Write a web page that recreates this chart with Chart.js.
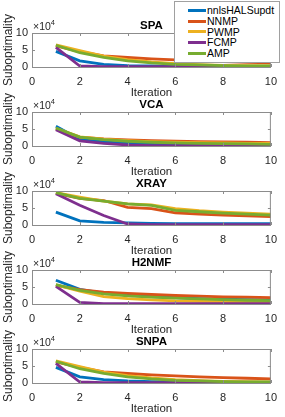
<!DOCTYPE html>
<html>
<head>
<meta charset="utf-8">
<script src="https://cdn.jsdelivr.net/npm/chart.js@4.4.1/dist/chart.umd.min.js"></script>
<style>
  body { margin: 0; background: #fff; width: 285px; height: 417px; position: relative; overflow: hidden; font-family: "Liberation Sans", Arial, sans-serif; }
  .panel { position: absolute; left: 0; width: 285px; height: 100px; }
  #legend { position: absolute; left: 174px; top: 1px; width: 106px; height: 62px; background: #fff; border: 1px solid #a0a0a0; z-index: 10; box-sizing: border-box; padding-top: 3px; }
  #legend div { height: 10.8px; line-height: 10.8px; font-size: 10.5px; color: #000; white-space: nowrap; }
  #legend span { display: inline-block; width: 18px; height: 3px; vertical-align: middle; margin-left: 13px; margin-right: 1px; position: relative; top: -1px; }
</style>
</head>
<body>
<div id="legend"></div>
<script>
// iterations on the x axis
const iterations = [1, 2, 3, 4, 5, 6, 7, 8, 9, 10];
const methods = ["nnlsHALSupdt", "NNMP", "PWMP", "FCMP", "AMP"];
const colors = ["#0072BD", "#D95319", "#EDB120", "#7E2F8E", "#77AC30"];
const titles = ["SPA", "VCA", "XRAY", "H2NMF", "SNPA"];

// suboptimality values, in units of 10^4 (one row per method)
const spaValues = [
  [4.6, 1.8, 0.8, 0.4, 0.3, 0.2, 0.2, 0.2, 0.2, 0.2],
  [6.2, 4.5, 3.3, 2.8, 2.4, 2.1, 1.8, 1.6, 1.4, 1.2],
  [6.5, 4.8, 3.2, 2.2, 1.5, 1.0, 0.7, 0.5, 0.4, 0.3],
  [5.8, 0.3, 0.1, 0.1, 0.1, 0.1, 0.1, 0.1, 0.1, 0.1],
  [6.4, 4.2, 2.8, 1.8, 1.2, 0.8, 0.6, 0.4, 0.3, 0.3]
];
const vcaValues = [
  [5.8, 2.0, 1.3, 0.9, 0.7, 0.6, 0.5, 0.5, 0.4, 0.4],
  [5.0, 2.6, 2.1, 1.8, 1.6, 1.4, 1.3, 1.2, 1.1, 1.0],
  [5.2, 2.7, 2.0, 1.6, 1.3, 1.1, 1.0, 0.9, 0.8, 0.8],
  [4.8, 1.5, 0.8, 0.3, 0.1, 0.1, 0.1, 0.1, 0.1, 0.1],
  [5.3, 2.6, 1.9, 1.4, 1.1, 0.9, 0.8, 0.7, 0.6, 0.5]
];
const xrayValues = [
  [3.8, 1.2, 0.8, 0.6, 0.5, 0.4, 0.4, 0.4, 0.4, 0.4],
  [9.3, 7.8, 7.2, 5.2, 4.8, 3.6, 3.2, 2.9, 2.7, 2.5],
  [9.5, 8.2, 7.0, 6.2, 5.9, 4.8, 4.2, 3.8, 3.5, 3.2],
  [9.2, 5.8, 2.8, 0.3, 0.1, 0.1, 0.1, 0.1, 0.1, 0.1],
  [9.5, 7.8, 7.0, 6.2, 5.8, 4.3, 3.9, 3.5, 3.2, 2.9]
];
const h2nmfValues = [
  [7.0, 4.3, 3.2, 2.6, 2.2, 1.9, 1.6, 1.4, 1.3, 1.2],
  [5.5, 4.2, 3.5, 3.1, 2.8, 2.5, 2.3, 2.1, 2.0, 1.9],
  [5.6, 3.8, 2.2, 1.6, 1.2, 0.9, 0.8, 0.7, 0.6, 0.6],
  [5.2, 0.5, 0.1, 0.1, 0.1, 0.1, 0.1, 0.1, 0.1, 0.1],
  [5.7, 4.0, 3.0, 2.4, 2.0, 1.7, 1.5, 1.3, 1.1, 1.0]
];
const snpaValues = [
  [4.6, 1.8, 1.0, 0.6, 0.4, 0.3, 0.2, 0.2, 0.2, 0.2],
  [6.2, 4.6, 3.3, 2.8, 2.4, 2.1, 1.8, 1.6, 1.4, 1.2],
  [6.5, 4.8, 3.2, 2.2, 1.5, 1.0, 0.7, 0.5, 0.4, 0.3],
  [5.8, 0.3, 0.1, 0.1, 0.1, 0.1, 0.1, 0.1, 0.1, 0.1],
  [6.4, 4.2, 2.8, 1.8, 1.2, 0.8, 0.6, 0.4, 0.3, 0.3]
];
const allValues = [spaValues, vcaValues, xrayValues, h2nmfValues, snpaValues];

const xTicks = [0, 2, 4, 6, 8, 10];
const yTicks = [0, 5, 10];

const FONT = "'Liberation Sans', Arial, sans-serif";

// box, inner tick marks, subplot title and the x10^4 label
const matlabAxes = {
  id: "matlabAxes",
  afterDraw(chart, args, opts) {
    const { ctx, chartArea: a, scales } = chart;
    ctx.save();
    ctx.strokeStyle = "#8c8c8c";
    ctx.lineWidth = 1;
    ctx.strokeRect(a.left + 0.5, a.top + 0.5, a.right - a.left - 1, a.bottom - a.top);
    ctx.beginPath();
    xTicks.forEach((t) => {
      const x = Math.round(scales.x.getPixelForValue(t)) + 0.5;
      ctx.moveTo(x, a.bottom); ctx.lineTo(x, a.bottom - 3);
      ctx.moveTo(x, a.top); ctx.lineTo(x, a.top + 3);
    });
    yTicks.forEach((t) => {
      const y = Math.round(scales.y.getPixelForValue(t)) + 0.5;
      ctx.moveTo(a.left, y); ctx.lineTo(a.left + 3, y);
      ctx.moveTo(a.right, y); ctx.lineTo(a.right - 3, y);
    });
    ctx.stroke();

    ctx.fillStyle = "#000";
    ctx.textAlign = "center";
    ctx.textBaseline = "middle";
    ctx.font = "bold 11.5px " + FONT;
    ctx.fillText(opts.title, (a.left + a.right) / 2, a.top - 7);

    ctx.fillStyle = "#262626";
    ctx.textAlign = "left";
    ctx.textBaseline = "alphabetic";
    ctx.font = "10.5px " + FONT;
    ctx.fillText("\u00d710", a.left + 1, a.top - 3);
    const w = ctx.measureText("\u00d710").width;
    ctx.font = "7.5px " + FONT;
    ctx.fillText("4", a.left + 1 + w, a.top - 8);
    ctx.restore();
  }
};

titles.forEach((title, i) => {
  const canvas = document.createElement("canvas");
  canvas.className = "panel";
  canvas.style.top = (i * 79) + "px";
  canvas.width = 285;
  canvas.height = 100;
  document.body.appendChild(canvas);

  const datasets = methods.map((name, k) => ({
    label: name,
    data: iterations.map((it, j) => ({ x: it, y: allValues[i][k][j] })),
    borderColor: colors[k],
    backgroundColor: colors[k],
    borderWidth: 2.8,
    pointRadius: 0,
    tension: 0,
    order: methods.length - k
  }));

  new Chart(canvas, {
    type: "line",
    data: { datasets },
    plugins: [matlabAxes],
    options: {
      responsive: false,
      animation: false,
      layout: { padding: { top: 33, right: 9, left: 0, bottom: 0 } },
      plugins: {
        legend: { display: false },
        tooltip: { enabled: false },
        matlabAxes: { title }
      },
      scales: {
        x: {
          type: "linear",
          min: 0,
          max: 10,
          afterFit: (s) => { s.height = 33; },
          afterBuildTicks: (s) => { s.ticks = xTicks.map((v) => ({ value: v })); },
          grid: { display: false, drawTicks: false },
          border: { display: false },
          ticks: { color: "#262626", font: { size: 11, family: FONT }, padding: 8, maxRotation: 0 },
          title: { display: true, text: "Iteration", color: "#262626", font: { size: 11.5, family: FONT }, padding: { top: 2, bottom: 0 } }
        },
        y: {
          min: 0,
          max: 10,
          afterFit: (s) => { s.width = 32; },
          afterBuildTicks: (s) => { s.ticks = yTicks.map((v) => ({ value: v })); },
          grid: { display: false, drawTicks: false },
          border: { display: false },
          ticks: { color: "#262626", font: { size: 11, family: FONT }, padding: 4 },
          title: { display: true, text: "Suboptimality", color: "#262626", font: { size: 12, family: FONT }, padding: { top: 1, bottom: 0 } }
        }
      }
    }
  });
});

// legend built from the same series names and colours
const legend = document.getElementById("legend");
methods.forEach((name, k) => {
  const row = document.createElement("div");
  const sw = document.createElement("span");
  sw.style.background = colors[k];
  row.appendChild(sw);
  row.appendChild(document.createTextNode(name));
  legend.appendChild(row);
});
</script>
</body>
</html>
